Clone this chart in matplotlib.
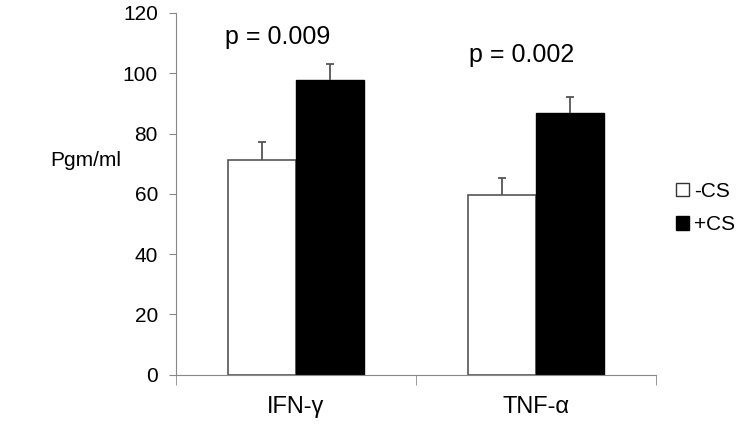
import matplotlib.pyplot as plt
import numpy as np
from matplotlib.patches import Patch

plt.rcParams['font.family'] = ['Liberation Sans', 'DejaVu Sans']

categories = ['IFN-\u03b3', 'TNF-\u03b1']
minus_cs = [71.3, 59.7]
minus_cs_err = [5.9, 5.6]
plus_cs = [97.7, 86.7]
plus_cs_err = [5.4, 5.3]
p_values = ['p = 0.009', 'p = 0.002']
p_heights = [112, 106]
p_offsets = [-0.075, -0.058]

fig = plt.figure(figsize=(7.44, 4.26), dpi=100)
ax = fig.add_axes([176 / 744, 1 - 374.7 / 426, 480 / 744, 361.7 / 426])

x = np.arange(len(categories))
w = 0.283
ax.bar(x - w / 2, minus_cs, w, color='white', edgecolor='#555555', linewidth=1.2)
ax.bar(x + w / 2, plus_cs, w, color='black', edgecolor='black', linewidth=1.0)

# upward-only error bars
for xs, ys, es in [(x - w / 2, minus_cs, minus_cs_err), (x + w / 2, plus_cs, plus_cs_err)]:
    eb = ax.errorbar(xs, ys, yerr=[np.zeros(len(es)), es], fmt='none', ecolor='#555555',
                     elinewidth=1.3, capsize=2.8, capthick=1.3)
    eb[1][0].set_visible(False)

for i in range(len(categories)):
    ax.text(x[i] + p_offsets[i], p_heights[i], p_values[i], ha='center', va='center', fontsize=18)

ax.set_xlim(-0.5, 1.5)
ax.set_ylim(0, 120)
ax.set_yticks(np.arange(0, 121, 20))
ax.set_xticks(x)
ax.set_xticklabels(categories, fontsize=17)
ax.set_xticks([-0.5, 0.5, 1.5], minor=True)
ax.tick_params(axis='x', which='major', length=0, pad=15)
ax.tick_params(axis='x', which='minor', length=7, color='#888888')
ax.tick_params(axis='y', length=5, color='#888888', labelsize=15, pad=8)

for s in ['top', 'right']:
    ax.spines[s].set_visible(False)
for s in ['left', 'bottom']:
    ax.spines[s].set_color('#888888')

fig.text(86 / 744, 1 - 160 / 426, 'Pgm/ml', ha='center', va='center', fontsize=15)

handles = [Patch(facecolor='white', edgecolor='#333333', label='-CS'),
           Patch(facecolor='black', edgecolor='black', label='+CS')]
fig.legend(handles=handles, loc='center left', bbox_to_anchor=(676 / 744, 1 - 208 / 426),
           frameon=False, fontsize=15, handlelength=0.6, handleheight=0.6, handletextpad=0.25,
           labelspacing=0.7, borderaxespad=0, borderpad=0)

plt.savefig('out.png')
